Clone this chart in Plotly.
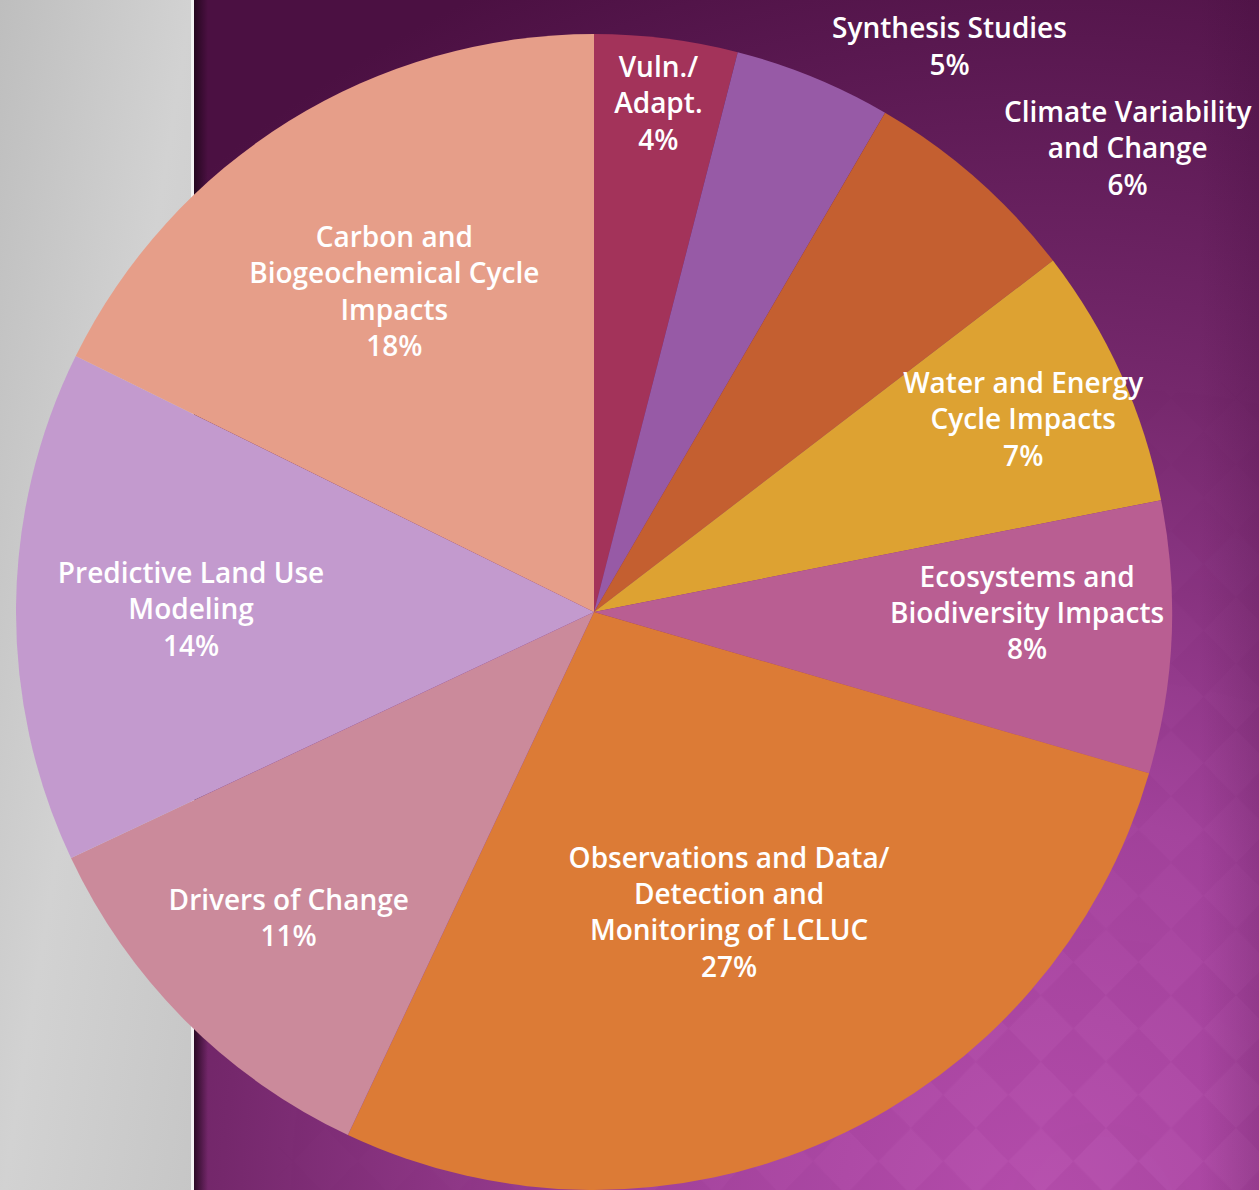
import base64
import plotly.graph_objects as go

# ---- data ----
categories = [
    "Vuln./ Adapt.",
    "Synthesis Studies",
    "Climate Variability and Change",
    "Water and Energy Cycle Impacts",
    "Ecosystems and Biodiversity Impacts",
    "Observations and Data/ Detection and Monitoring of LCLUC",
    "Drivers of Change",
    "Predictive Land Use Modeling",
    "Carbon and Biogeochemical Cycle Impacts",
]
# displayed label lines
label_text = [
    "Vuln./<br>Adapt.",
    "Synthesis Studies",
    "Climate Variability<br>and Change",
    "Water and Energy<br>Cycle Impacts",
    "Ecosystems and<br>Biodiversity Impacts",
    "Observations and Data/<br>Detection and<br>Monitoring of LCLUC",
    "Drivers of Change",
    "Predictive Land Use<br>Modeling",
    "Carbon and<br>Biogeochemical Cycle<br>Impacts",
]
# slice shares
shares = [4.0, 4.4, 6.2, 7.3, 7.6, 27.5, 11.0, 14.3, 17.7]
# percentage labels as printed
pct_labels = ["4%", "5%", "6%", "7%", "8%", "27%", "11%", "14%", "18%"]

colors = ["#A3335A", "#975AA6", "#C45F30", "#DDA232", "#B95E92",
          "#DC7B36", "#CB8A9B", "#C39ACE", "#E69E89"]
text_positions = ["inside", "outside", "outside", "inside", "inside",
                  "inside", "inside", "inside", "inside"]

W, H = 1259, 1190

# ---- background (decorative slide backdrop) ----
svg = f"""<svg xmlns='http://www.w3.org/2000/svg' width='{W}' height='{H}' viewBox='0 0 {W} {H}' preserveAspectRatio='none'>
<defs>
<linearGradient id='gray' x1='0' y1='0' x2='1' y2='1'>
<stop offset='0' stop-color='#bebebe'/><stop offset='0.5' stop-color='#d2d2d2'/><stop offset='1' stop-color='#c6c6c6'/>
</linearGradient>
<radialGradient id='pur' cx='1040' cy='1190' r='1320' gradientUnits='userSpaceOnUse'>
<stop offset='0' stop-color='#b74eae'/>
<stop offset='0.3' stop-color='#a3429c'/>
<stop offset='0.62' stop-color='#75286c'/>
<stop offset='1' stop-color='#4b1042'/>
</radialGradient>
<linearGradient id='sh' x1='0' y1='0' x2='1' y2='0'>
<stop offset='0' stop-color='#1e0519' stop-opacity='0.85'/>
<stop offset='1' stop-color='#1e0519' stop-opacity='0'/>
</linearGradient>
<linearGradient id='edge' x1='0' y1='0' x2='1' y2='0'>
<stop offset='0' stop-color='#3a0a33' stop-opacity='0'/>
<stop offset='1' stop-color='#3a0a33' stop-opacity='0.18'/>
</linearGradient>
<radialGradient id='fade' cx='1100' cy='1190' r='900' gradientUnits='userSpaceOnUse'>
<stop offset='0' stop-color='white' stop-opacity='1'/>
<stop offset='1' stop-color='white' stop-opacity='0'/>
</radialGradient>
<mask id='m'><rect x='0' y='0' width='{W}' height='{H}' fill='url(#fade)'/></mask>
<pattern id='dia' width='92' height='92' patternUnits='userSpaceOnUse' patternTransform='rotate(45)'>
<rect x='0' y='0' width='46' height='46' fill='white' fill-opacity='0.025'/>
<rect x='46' y='46' width='46' height='46' fill='white' fill-opacity='0.025'/>
<rect x='46' y='0' width='46' height='46' fill='black' fill-opacity='0.02'/>
<rect x='0' y='46' width='46' height='46' fill='black' fill-opacity='0.02'/>
</pattern>
</defs>
<rect x='0' y='0' width='{W}' height='{H}' fill='url(#pur)'/>
<rect x='194' y='0' width='{W-194}' height='{H}' fill='url(#dia)' mask='url(#m)'/>
<rect x='{W-60}' y='0' width='60' height='{H}' fill='url(#edge)'/>
<rect x='0' y='0' width='192' height='{H}' fill='url(#gray)'/>
<rect x='191' y='0' width='3' height='{H}' fill='#f2f2f2'/>
<rect x='194' y='0' width='14' height='{H}' fill='url(#sh)'/>
</svg>"""
bg_src = "data:image/svg+xml;base64," + base64.b64encode(svg.encode()).decode()

cx, cy, r = 594, 612, 578
ytop = min(1.0, (H - cy + r) / H)

label_font = dict(family="Open Sans", size=28, color="white", weight=600)

fig = go.Figure(
    go.Pie(
        labels=categories,
        values=shares,
        text=[f"{t}<br>{p}" for t, p in zip(label_text, pct_labels)],
        texttemplate="%{text}",
        textposition=text_positions,
        insidetextorientation="horizontal",
        sort=False,
        direction="clockwise",
        rotation=0,
        automargin=False,
        marker=dict(colors=colors, line=dict(width=0)),
        insidetextfont=label_font,
        outsidetextfont=label_font,
        showlegend=False,
        hoverinfo="label+percent",
        domain=dict(x=[(cx - r) / W, (cx + r) / W], y=[0, ytop]),
    )
)

fig.update_layout(
    width=W,
    height=H,
    autosize=False,
    margin=dict(l=0, r=0, t=0, b=0, pad=0, autoexpand=False),
    paper_bgcolor="#7a2a72",
    plot_bgcolor="rgba(0,0,0,0)",
    uniformtext=dict(mode="show", minsize=28),
    images=[dict(source=bg_src, xref="paper", yref="paper", x=0, y=1.0,
                 sizex=1, sizey=1.02, xanchor="left", yanchor="top",
                 sizing="stretch", layer="below")],
)

fig.write_html(
    "out.html",
    config={"displayModeBar": False, "responsive": False},
    post_script="document.body.style.margin='0';document.body.style.padding='0';"
                "document.body.style.overflow='hidden';"
                "document.documentElement.style.overflow='hidden';",
)
